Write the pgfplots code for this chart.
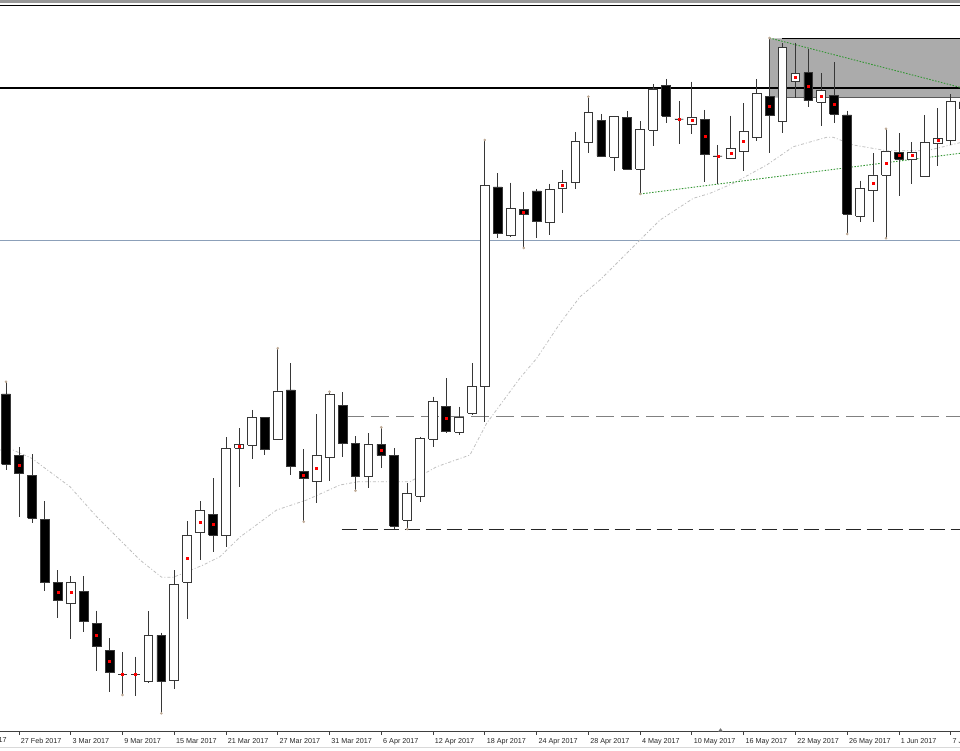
\documentclass[border=0pt]{standalone}
\usepackage{fontspec}
\setmainfont{Liberation Sans}
\usepackage{pgfplots}
\usepackage{pgfplotstable}
\pgfplotsset{compat=1.18}

\definecolor{wickc}{RGB}{55,55,55}
\definecolor{bluel}{RGB}{140,160,185}
\definecolor{greenl}{RGB}{50,150,50}
\definecolor{rectc}{RGB}{171,171,171}
\definecolor{fracc}{RGB}{190,170,150}

\pgfplotstableread{
i o h l c
0 356 368.3 280 285.7
1 294.3 302.7 233.3 276.3
2 275 296 226.7 232
3 230.7 249 159 168
4 167.7 179.7 131.7 149.3
5 146.7 174 111.3 167.7
6 158.7 174 118.3 129
7 127 139.3 79.3 103.3
8 99.3 111.7 57.7 78
9 75.7 97.7 55 75.7
10 75.7 93.3 54.3 75.7
11 68.3 138.7 67.3 114.7
12 114.7 117.3 36.7 68.3
13 69.3 180 61 165.7
14 168 229 130.7 215
15 217.3 249 190 239.3
16 236 271.7 198.3 215
17 214.3 312.7 202.7 301.7
18 301.7 321.7 262.7 305.7
19 304.7 340 290.7 332.3
20 332.3 332.3 294.7 300.7
21 311 401.7 310 359
22 360 386.7 274.7 283.3
23 279 300.7 228.3 271.7
24 268.3 336 247.3 294.3
25 292.7 358.3 269 356
26 344.7 357.7 292.7 306.3
27 306.3 314 259.3 274
28 273.3 316.7 261.7 305.7
29 305.7 322.7 281.7 295
30 295 301.7 221 224
31 230 266.7 221 256.7
32 254 313.3 247.7 311.7
33 310.7 353.3 302.7 348.3
34 343.3 371.7 317 318.3
35 317.7 343.3 315 332.7
36 336.7 386.7 335 363.3
37 364 610 328.3 564.3
38 563 576.7 511.7 516.3
39 514.3 567.3 513.5 541.3
40 540.3 558 502 536
41 559 561 512.3 528.7
42 528 566.3 514.7 560.7
43 562 580 536.7 567.7
44 567.7 618 561 608.3
45 607.3 653.3 596.7 637.7
46 629.3 636 592.7 594
47 592.7 634 579 633.3
48 632.7 639 580.5 581
49 580.7 628.7 556 620.3
50 620 666 604.3 661
51 664.3 671 626.7 634
52 631 649 606.3 631
53 626 668.3 616 632.7
54 630.7 640 568.3 596
55 594 605 565.7 594
56 591.7 634.3 591 601.7
57 598.3 646.7 579.3 618.7
58 612.7 670.7 609 656.7
59 653.3 712 596.7 634.7
60 628.3 706.7 616.7 702.7
61 669 707.3 651.7 676.7
62 677.3 701 642.7 649.3
63 647.7 676.7 624 659.3
64 654.3 687.7 627.3 635.7
65 635 639.3 516 536
66 534 569.3 528.3 562
67 559.3 596.7 528.3 575
68 575 621.3 511.7 599
69 597.7 616.7 554.3 590.7
70 590.7 607.7 566 597.7
71 574 635 573.3 607.3
72 606.7 641.7 584.3 611.7
73 610 655.7 605 649
74 648 655 635 642
}\ohlc

\begin{document}
\begin{tikzpicture}
% build the candle plots from the table
\def\allcandles{}%
\pgfplotstablegetrowsof{\ohlc}%
\pgfmathtruncatemacro{\lastrow}{\pgfplotsretval-1}%
\pgfplotsforeachungrouped \rowidx in {0,...,\lastrow}{%
  \pgfplotstablegetelem{\rowidx}{i}\of\ohlc\let\Ci\pgfplotsretval
  \pgfplotstablegetelem{\rowidx}{o}\of\ohlc\let\Co\pgfplotsretval
  \pgfplotstablegetelem{\rowidx}{h}\of\ohlc\let\Ch\pgfplotsretval
  \pgfplotstablegetelem{\rowidx}{l}\of\ohlc\let\Cl\pgfplotsretval
  \pgfplotstablegetelem{\rowidx}{c}\of\ohlc\let\Cc\pgfplotsretval
  \pgfmathsetmacro{\Blo}{min(\Co,\Cc)}%
  \pgfmathsetmacro{\Bhi}{max(\Co,\Cc)}%
  \pgfmathsetmacro{\Xl}{\Ci-0.34}%
  \pgfmathsetmacro{\Xr}{\Ci+0.34}%
  \pgfmathtruncatemacro{\Bull}{\Cc>\Co}%
  \ifnum\Bull=1 \def\Cf{white}\else\def\Cf{black}\fi
  \edef\allcandles{\unexpanded\expandafter{\allcandles}%
    \noexpand\addplot[wickc, line width=0.8pt] coordinates {(\Ci,\Ch) (\Ci,\Bhi)};%
    \noexpand\addplot[wickc, line width=0.8pt] coordinates {(\Ci,\Blo) (\Ci,\Cl)};%
    \noexpand\addplot[draw=wickc, fill=\Cf, line width=0.8pt] coordinates {(\Xl,\Blo) (\Xr,\Blo) (\Xr,\Bhi) (\Xl,\Bhi) (\Xl,\Blo)};}%
}%
\begin{axis}[
  at={(0,0)}, anchor=south west,
  scale only axis, width=960pt, height=726.2pt,
  xmin=-0.4683, xmax=73.72, ymin=18.3, ymax=744.5,
  axis x line*=bottom, axis y line=none,
  x axis line style={-, draw=black!75, line width=0.8pt},
  xtick={1,5,...,73},
  xticklabels={27 Feb 2017,3 Mar 2017,9 Mar 2017,15 Mar 2017,21 Mar 2017,27 Mar 2017,31 Mar 2017,6 Apr 2017,12 Apr 2017,18 Apr 2017,24 Apr 2017,28 Apr 2017,4 May 2017,10 May 2017,16 May 2017,22 May 2017,26 May 2017,1 Jun 2017,7 Jun 2017},
  xtick align=outside, major tick length=3pt,
  xtick style={draw=black!75, line width=0.8pt},
  xticklabel style={anchor=base west, inner sep=0pt, xshift=1.7pt, yshift=-8.5pt, font=\fontsize{7.2}{8}\selectfont, text=black!85},
  ytick=\empty,
]
% grey zone
\addplot[fill=rectc, draw=none] coordinates {(59,652.3) (59,711.7) (74,711.7) (74,652.3) (59,652.3)};
\addplot[black, line width=0.9pt] coordinates {(60,711.7) (74,711.7)};
\addplot[black!65, line width=0.8pt] coordinates {(60,652.3) (74,652.3)};
% horizontal levels
\addplot[black, line width=2pt] coordinates {(-0.5,661.5) (74,661.5)};
\addplot[bluel, line width=0.9pt] coordinates {(-0.5,510) (74,510)};
\addplot[black!50, line width=1pt, dash pattern=on 18pt off 7pt] coordinates {(26.27,333.3) (74,333.3)};
\addplot[black!85, line width=1pt, dash pattern=on 15pt off 6pt] coordinates {(25.94,220.7) (74,220.7)};
% moving average
\addplot[black!25, line width=0.8pt, dash pattern=on 3pt off 2pt on 1pt off 2pt] coordinates {
(-0.47,300) (0.54,300) (1.98,291.7) (4.94,263.3) (7.0,233.3) (10.35,190) (12.03,172.7) (12.92,172.7)
(15.24,185) (16.53,193.3) (18.08,213) (20.91,240) (23.23,250) (25.81,265) (27.22,268.3) (31.22,268.3)
(33.28,283.3) (35.85,295) (37.14,326.7) (39.72,372) (41.01,391.7) (42.81,426.7) (44.36,453.3) (45.9,470)
(48.47,503.3) (50.54,530) (53.11,551.7) (54.4,556.7) (56.2,566.7) (58.78,585) (60.84,603.3) (63.42,612.7)
(63.93,612.7) (65.47,605) (68.05,599.3) (71.15,599.3) (73.72,607.3)};
% trend lines
\addplot[greenl, line width=0.9pt, dash pattern=on 1.5pt off 1.5pt] coordinates {(59,712) (73.72,662.7)};
\addplot[greenl, line width=0.9pt, dash pattern=on 1.5pt off 1.5pt] coordinates {(49,556) (73.72,596.7)};
% candles
\allcandles
% red markers
\addplot[only marks, mark=square*, mark size=1pt, red, mark options={draw=red}] coordinates {
(1,285.3) (4,158.3) (5,157.7) (7,114.7) (8,89) (9,75.7) (10,75.7) (14,191.7) (15,228) (16,225.7)
(18,303.7) (23,275) (24,281.7) (29,300) (34,331.7) (40,537.7) (43,565) (52,631) (53,629.3) (54,614)
(55,594) (56,596.7) (57,608.3) (59,644) (61,673) (62,663.3) (63,653.3) (64,645.7) (67,566.7) (68,586.7)
(69,594.3) (70,594.3) (72,609.3)};
% fractal dots
\addplot[only marks, mark=*, mark size=1.1pt, fracc] coordinates {
(0,368.3) (9,55) (12,36.7) (21,401.7) (23,228.3) (25,358.3) (27,259.3) (29,322.7) (31,221) (37,610)
(40,502) (45,653.3) (49,556) (59,712) (65,516) (68,621.3) (68,511.7)};
\end{axis}
% frame decorations
\fill[black!40] (0,728.7pt) rectangle (960pt,731.7pt);
\draw[black, line width=1pt] (0,726.2pt) -- (960pt,726.2pt);
\draw[black!15, line width=0.6pt] (0,-16pt) -- (960pt,-16pt);
\fill[black!55] (718pt,0) -- (723pt,0) -- (720.5pt,3.5pt) -- cycle;
\node[anchor=base west, inner sep=0pt, font=\fontsize{7.2}{8}\selectfont, text=black!85] at (-34pt,-10.3pt) {21 Feb 2017};
\pgfresetboundingbox
\path[use as bounding box] (0,-18.3pt) rectangle (960pt,731.7pt);
\end{tikzpicture}
\end{document}
